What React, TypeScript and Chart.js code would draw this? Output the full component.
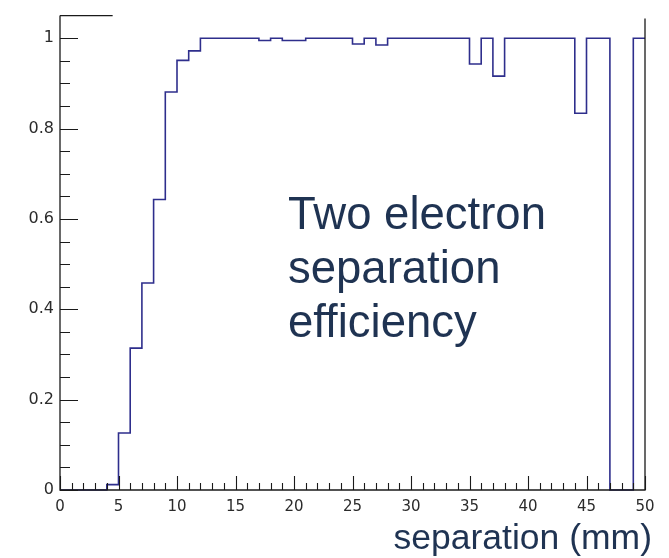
import React, { useEffect, useRef } from 'react';
import { Chart, registerables } from 'chart.js';

Chart.register(...registerables);

// Bin edges (mm), 1 mm bins from 0 to 50
const binEdges = [
  0, 1, 2, 3, 4, 5, 6, 7, 8, 9, 10, 11, 12, 13, 14, 15, 16, 17, 18, 19, 20,
  21, 22, 23, 24, 25, 26, 27, 28, 29, 30, 31, 32, 33, 34, 35, 36, 37, 38, 39, 40,
  41, 42, 43, 44, 45, 46, 47, 48, 49, 50,
];

// Efficiency per bin (50 bins)
const efficiency = [
  0, 0, 0, 0, 0.012,
  0.126, 0.314, 0.458, 0.643, 0.881,
  0.951, 0.972, 1, 1, 1,
  1, 1, 0.995, 1, 0.995,
  0.995, 1, 1, 1, 1,
  0.987, 1, 0.985, 1, 1,
  1, 1, 1, 1, 1,
  0.943, 1, 0.916, 1, 1,
  1, 1, 1, 1, 0.834,
  1, 1, 0, 0, 1,
];

const xTickLabels = ['0', '5', '10', '15', '20', '25', '30', '35', '40', '45', '50'];
const yTickLabels = ['0', '0.2', '0.4', '0.6', '0.8', '1'];

const xMajorStep = 5;
const xMinorStep = 1;
const yMajorStep = 0.2;
const yMinorStep = 0.05;

const overlayLines = ['Two electron', 'separation', 'efficiency'];
const xAxisTitle = 'separation (mm)';

const LINE_COLOR = '#2e2e8c';
const AXIS_COLOR = '#1a1a1a';
const TEXT_NAVY = '#1f3352';

const rootFramePlugin = {
  id: 'rootFrame',
  afterDatasetsDraw(chart: any) {
    const { ctx, chartArea: a, scales } = chart;
    const x = scales.x;
    const y = scales.y;
    ctx.save();
    ctx.strokeStyle = AXIS_COLOR;
    ctx.lineWidth = 1.3;
    ctx.beginPath();
    // left axis
    ctx.moveTo(a.left, a.top);
    ctx.lineTo(a.left, a.bottom);
    // bottom axis
    ctx.lineTo(a.right, a.bottom);
    // right axis (starts slightly below the top)
    ctx.lineTo(a.right, a.top + 3);
    // partial top border
    ctx.moveTo(a.left, a.top);
    ctx.lineTo(x.getPixelForValue(4.5), a.top);
    ctx.stroke();

    // y ticks (inside, on left)
    ctx.lineWidth = 1.1;
    ctx.beginPath();
    const nY = Math.round(1 / yMinorStep);
    for (let i = 0; i <= nY; i++) {
      const v = i * yMinorStep;
      const py = Math.round(y.getPixelForValue(v)) + 0.5;
      const major = i % Math.round(yMajorStep / yMinorStep) === 0;
      const len = major ? 18 : 10;
      ctx.moveTo(a.left, py);
      ctx.lineTo(a.left + len, py);
    }
    // x ticks (inside, on bottom)
    const nX = Math.round(50 / xMinorStep);
    for (let i = 0; i <= nX; i++) {
      const v = i * xMinorStep;
      const px = Math.round(x.getPixelForValue(v)) + 0.5;
      const major = v % xMajorStep === 0;
      const len = major ? 14 : 7;
      ctx.moveTo(px, a.bottom);
      ctx.lineTo(px, a.bottom - len);
    }
    ctx.stroke();
    ctx.restore();
  },
};

export default function App() {
  const canvasRef = useRef<HTMLCanvasElement | null>(null);

  useEffect(() => {
    document.body.style.margin = '0';
    const canvas = canvasRef.current;
    if (!canvas) return;
    const points = binEdges.map((e, i) => ({
      x: e,
      y: efficiency[Math.min(i, efficiency.length - 1)],
    }));
    const chart = new Chart(canvas, {
      type: 'line',
      data: {
        datasets: [
          {
            data: points,
            stepped: 'before',
            borderColor: LINE_COLOR,
            borderWidth: 1.6,
            pointRadius: 0,
            fill: false,
            clip: 4,
          } as any,
        ],
      },
      options: {
        animation: false,
        responsive: false,
        devicePixelRatio: 1,
        layout: { padding: { top: 11, right: 24, left: 0, bottom: 0 } },
        plugins: {
          legend: { display: false },
          tooltip: { enabled: false },
        },
        scales: {
          x: {
            type: 'linear',
            min: 0,
            max: 50,
            grid: { display: false, drawTicks: false },
            border: { display: false },
            ticks: {
              stepSize: xMajorStep,
              autoSkip: false,
              maxRotation: 0,
              padding: 8,
              color: '#2b2b2b',
              font: { family: 'DejaVu Sans', size: 15 },
              callback: (_v: any, i: number) => xTickLabels[i],
            },
            afterFit: (s: any) => {
              s.height = 68;
            },
          },
          y: {
            type: 'linear',
            min: 0,
            max: 1.05,
            grid: { display: false, drawTicks: false },
            border: { display: false },
            ticks: {
              stepSize: yMajorStep,
              includeBounds: false,
              padding: 6,
              color: '#2b2b2b',
              font: { family: 'DejaVu Sans', size: 16 },
              callback: (_v: any, i: number) => yTickLabels[i],
            },
            afterFit: (s: any) => {
              s.width = 60;
            },
          },
        },
      },
      plugins: [rootFramePlugin],
    });
    return () => chart.destroy();
  }, []);

  return (
    <div style={{ position: 'relative', width: 669, height: 558, background: '#fff', overflow: 'hidden' }}>
      <canvas ref={canvasRef} width={669} height={558} style={{ position: 'absolute', left: 0, top: 0 }} />
      <div
        style={{
          position: 'absolute',
          left: 288,
          top: 187,
          fontFamily: '"Liberation Sans", Arial, sans-serif',
          fontSize: 45.5,
          lineHeight: '54px',
          color: TEXT_NAVY,
          whiteSpace: 'nowrap',
        }}
      >
        {overlayLines.map((t) => (
          <div key={t}>{t}</div>
        ))}
      </div>
      <div
        style={{
          position: 'absolute',
          right: 17,
          top: 520,
          fontFamily: '"Liberation Sans", Arial, sans-serif',
          fontSize: 35.5,
          lineHeight: '35px',
          color: TEXT_NAVY,
          whiteSpace: 'nowrap',
        }}
      >
        {xAxisTitle}
      </div>
    </div>
  );
}
